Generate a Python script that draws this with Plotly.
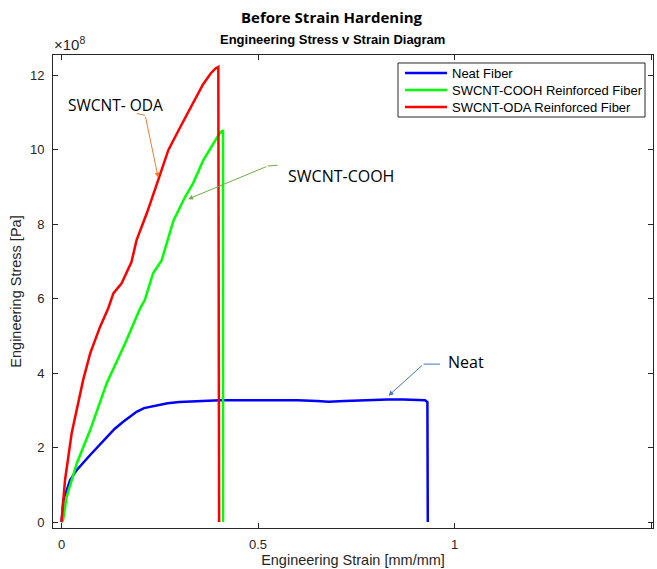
import plotly.graph_objects as go

# Strain [mm/mm] and stress [x1e8 Pa]
neat_strain = [0, 0.005, 0.022, 0.039, 0.073, 0.115, 0.135, 0.157, 0.175, 0.191, 0.21, 0.242, 0.27, 0.30, 0.35,
               0.403, 0.45, 0.50, 0.55, 0.60, 0.65, 0.68, 0.72, 0.78, 0.83, 0.87, 0.90, 0.925, 0.931, 0.932]
neat_stress = [0, 0.6, 1.13, 1.4, 1.8, 2.29, 2.5, 2.69, 2.84, 2.96, 3.06, 3.14, 3.19, 3.22, 3.25,
               3.27, 3.27, 3.27, 3.28, 3.27, 3.25, 3.23, 3.25, 3.28, 3.29, 3.29, 3.28, 3.27, 3.22, 0]

cooh_strain = [0, 0.004, 0.013, 0.039, 0.073, 0.115, 0.162, 0.20, 0.212, 0.233, 0.255, 0.285, 0.314, 0.335,
               0.361, 0.386, 0.403, 0.411, 0.411]
cooh_stress = [0, 0.05, 0.67, 1.58, 2.47, 3.73, 4.8, 5.74, 5.96, 6.68, 7.03, 8.1, 8.72, 9.1,
               9.72, 10.17, 10.45, 10.52, 0]

oda_strain = [0, 0.004, 0.009, 0.026, 0.055, 0.073, 0.098, 0.119, 0.132, 0.153, 0.178, 0.191, 0.217, 0.246,
              0.272, 0.302, 0.335, 0.36, 0.38, 0.392, 0.399, 0.401]
oda_stress = [0, 0.6, 1.13, 2.39, 3.81, 4.53, 5.24, 5.74, 6.14, 6.41, 6.98, 7.57, 8.29, 9.18,
              9.99, 10.6, 11.25, 11.75, 12.05, 12.18, 12.22, 0]

series_names = ["Neat Fiber", "SWCNT-COOH Reinforced Fiber", "SWCNT-ODA Reinforced Fiber"]
series_colors = ["#0000FF", "#00FF00", "#FF0000"]

x_ticks = [0, 0.5, 1, 1.5]
x_labels = ["0", "0.5", "1", "1.5"]
y_ticks = [0, 2, 4, 6, 8, 10, 12]
y_labels = ["0", "2", "4", "6", "8", "10", "12"]

fig = go.Figure()
for xs, ys, nm, col in zip([neat_strain, cooh_strain, oda_strain],
                           [neat_stress, cooh_stress, oda_stress],
                           series_names, series_colors):
    fig.add_trace(go.Scatter(x=xs, y=ys, mode="lines", name=nm, showlegend=False,
                             line=dict(color=col, width=2.5)))

axis_common = dict(showgrid=False, zeroline=False, showline=True, linecolor="#262626", linewidth=1,
                   mirror="ticks", ticks="inside", ticklen=5, tickcolor="#262626",
                   tickfont=dict(family="Liberation Sans, Arial", size=13, color="#262626"))

title_font = dict(family="Liberation Sans, Arial", size=14.5, color="#262626")

fig.update_layout(
    width=657, height=569,
    margin=dict(l=53, r=4, t=55, b=41),
    paper_bgcolor="white", plot_bgcolor="white",
    xaxis=dict(range=[-0.0216, 1.505], tickvals=x_ticks, ticktext=x_labels, ticklabelstandoff=4,
               title=dict(text="Engineering Strain [mm/mm]", standoff=2, font=title_font),
               **axis_common),
    yaxis=dict(range=[-0.16, 12.54], tickvals=y_ticks, ticktext=y_labels, ticklabelstandoff=5,
               title=dict(text="Engineering Stress [Pa]", standoff=4, font=title_font),
               **axis_common),
    showlegend=False,
)

ann_font = dict(family="Open Sans, Noto Sans", size=16, color="#000000")
annotations = [
    dict(text="<b>Before Strain Hardening</b>", xref="paper", yref="paper", x=0.465, y=1.0,
         yshift=38, showarrow=False, font=dict(family="Open Sans, Noto Sans", size=15, color="#000000"),
         yanchor="middle"),
    dict(text="<b>Engineering Stress v Strain Diagram</b>", xref="paper", yref="paper", x=0.465, y=1.0,
         yshift=16, showarrow=False, font=dict(family="Liberation Sans, Arial", size=13, color="#000000"),
         yanchor="middle"),
    dict(text="×10<sup>8</sup>", xref="paper", yref="paper", x=-0.002, y=1.0, xanchor="left",
         yanchor="bottom", yshift=0, showarrow=False,
         font=dict(family="Liberation Sans, Arial", size=15, color="#262626")),
    dict(text="SWCNT- ODA", x=0.138, y=11.2, xref="x", yref="y", showarrow=False,
         font=dict(family="Open Sans, Noto Sans", size=15.5, color="#000000")),
    dict(text="SWCNT-COOH", x=0.71, y=9.3, xref="x", yref="y", showarrow=False, font=ann_font),
    dict(text="Neat", x=1.03, y=4.3, xref="x", yref="y", showarrow=False, font=ann_font),
    # arrows
    dict(text="", x=0.246, y=9.25, ax=0.213, ay=10.92, xref="x", yref="y", axref="x", ayref="y",
         showarrow=True, arrowhead=2, arrowsize=1, arrowwidth=1, arrowcolor="#ED7D31"),
    dict(text="", x=0.322, y=8.67, ax=0.525, ay=9.56, xref="x", yref="y", axref="x", ayref="y",
         showarrow=True, arrowhead=2, arrowsize=1, arrowwidth=1, arrowcolor="#70AD47"),
    dict(text="", x=0.832, y=3.39, ax=0.921, ay=4.24, xref="x", yref="y", axref="x", ayref="y",
         showarrow=True, arrowhead=2, arrowsize=1, arrowwidth=1, arrowcolor="#4472C4"),
]

shapes = [
    dict(type="line", xref="x", yref="y", x0=0.192, y0=10.97, x1=0.213, y1=10.92,
         line=dict(color="#ED7D31", width=1)),
    dict(type="line", xref="x", yref="y", x0=0.525, y0=9.56, x1=0.55, y1=9.58,
         line=dict(color="#70AD47", width=1)),
    dict(type="line", xref="x", yref="y", x0=0.921, y0=4.24, x1=0.963, y1=4.24,
         line=dict(color="#4472C4", width=1)),
    # legend box
    dict(type="rect", xref="paper", yref="paper", x0=0.575, x1=0.9867, y0=0.8689, y1=0.9831,
         fillcolor="white", line=dict(color="#262626", width=1), layer="above"),
]

legend_rows = [0.9619, 0.926, 0.890]
for nm, col, yy in zip(series_names, series_colors, legend_rows):
    shapes.append(dict(type="line", xref="paper", yref="paper", x0=0.5867, x1=0.6567, y0=yy, y1=yy,
                       line=dict(color=col, width=2.5), layer="above"))
    annotations.append(dict(text=nm, xref="paper", yref="paper", x=0.6617, y=yy, xanchor="left",
                            yanchor="middle", showarrow=False,
                            font=dict(family="Liberation Sans, Arial", size=13, color="#000000")))

fig.update_layout(annotations=annotations, shapes=shapes)

fig.write_html("out.html")
